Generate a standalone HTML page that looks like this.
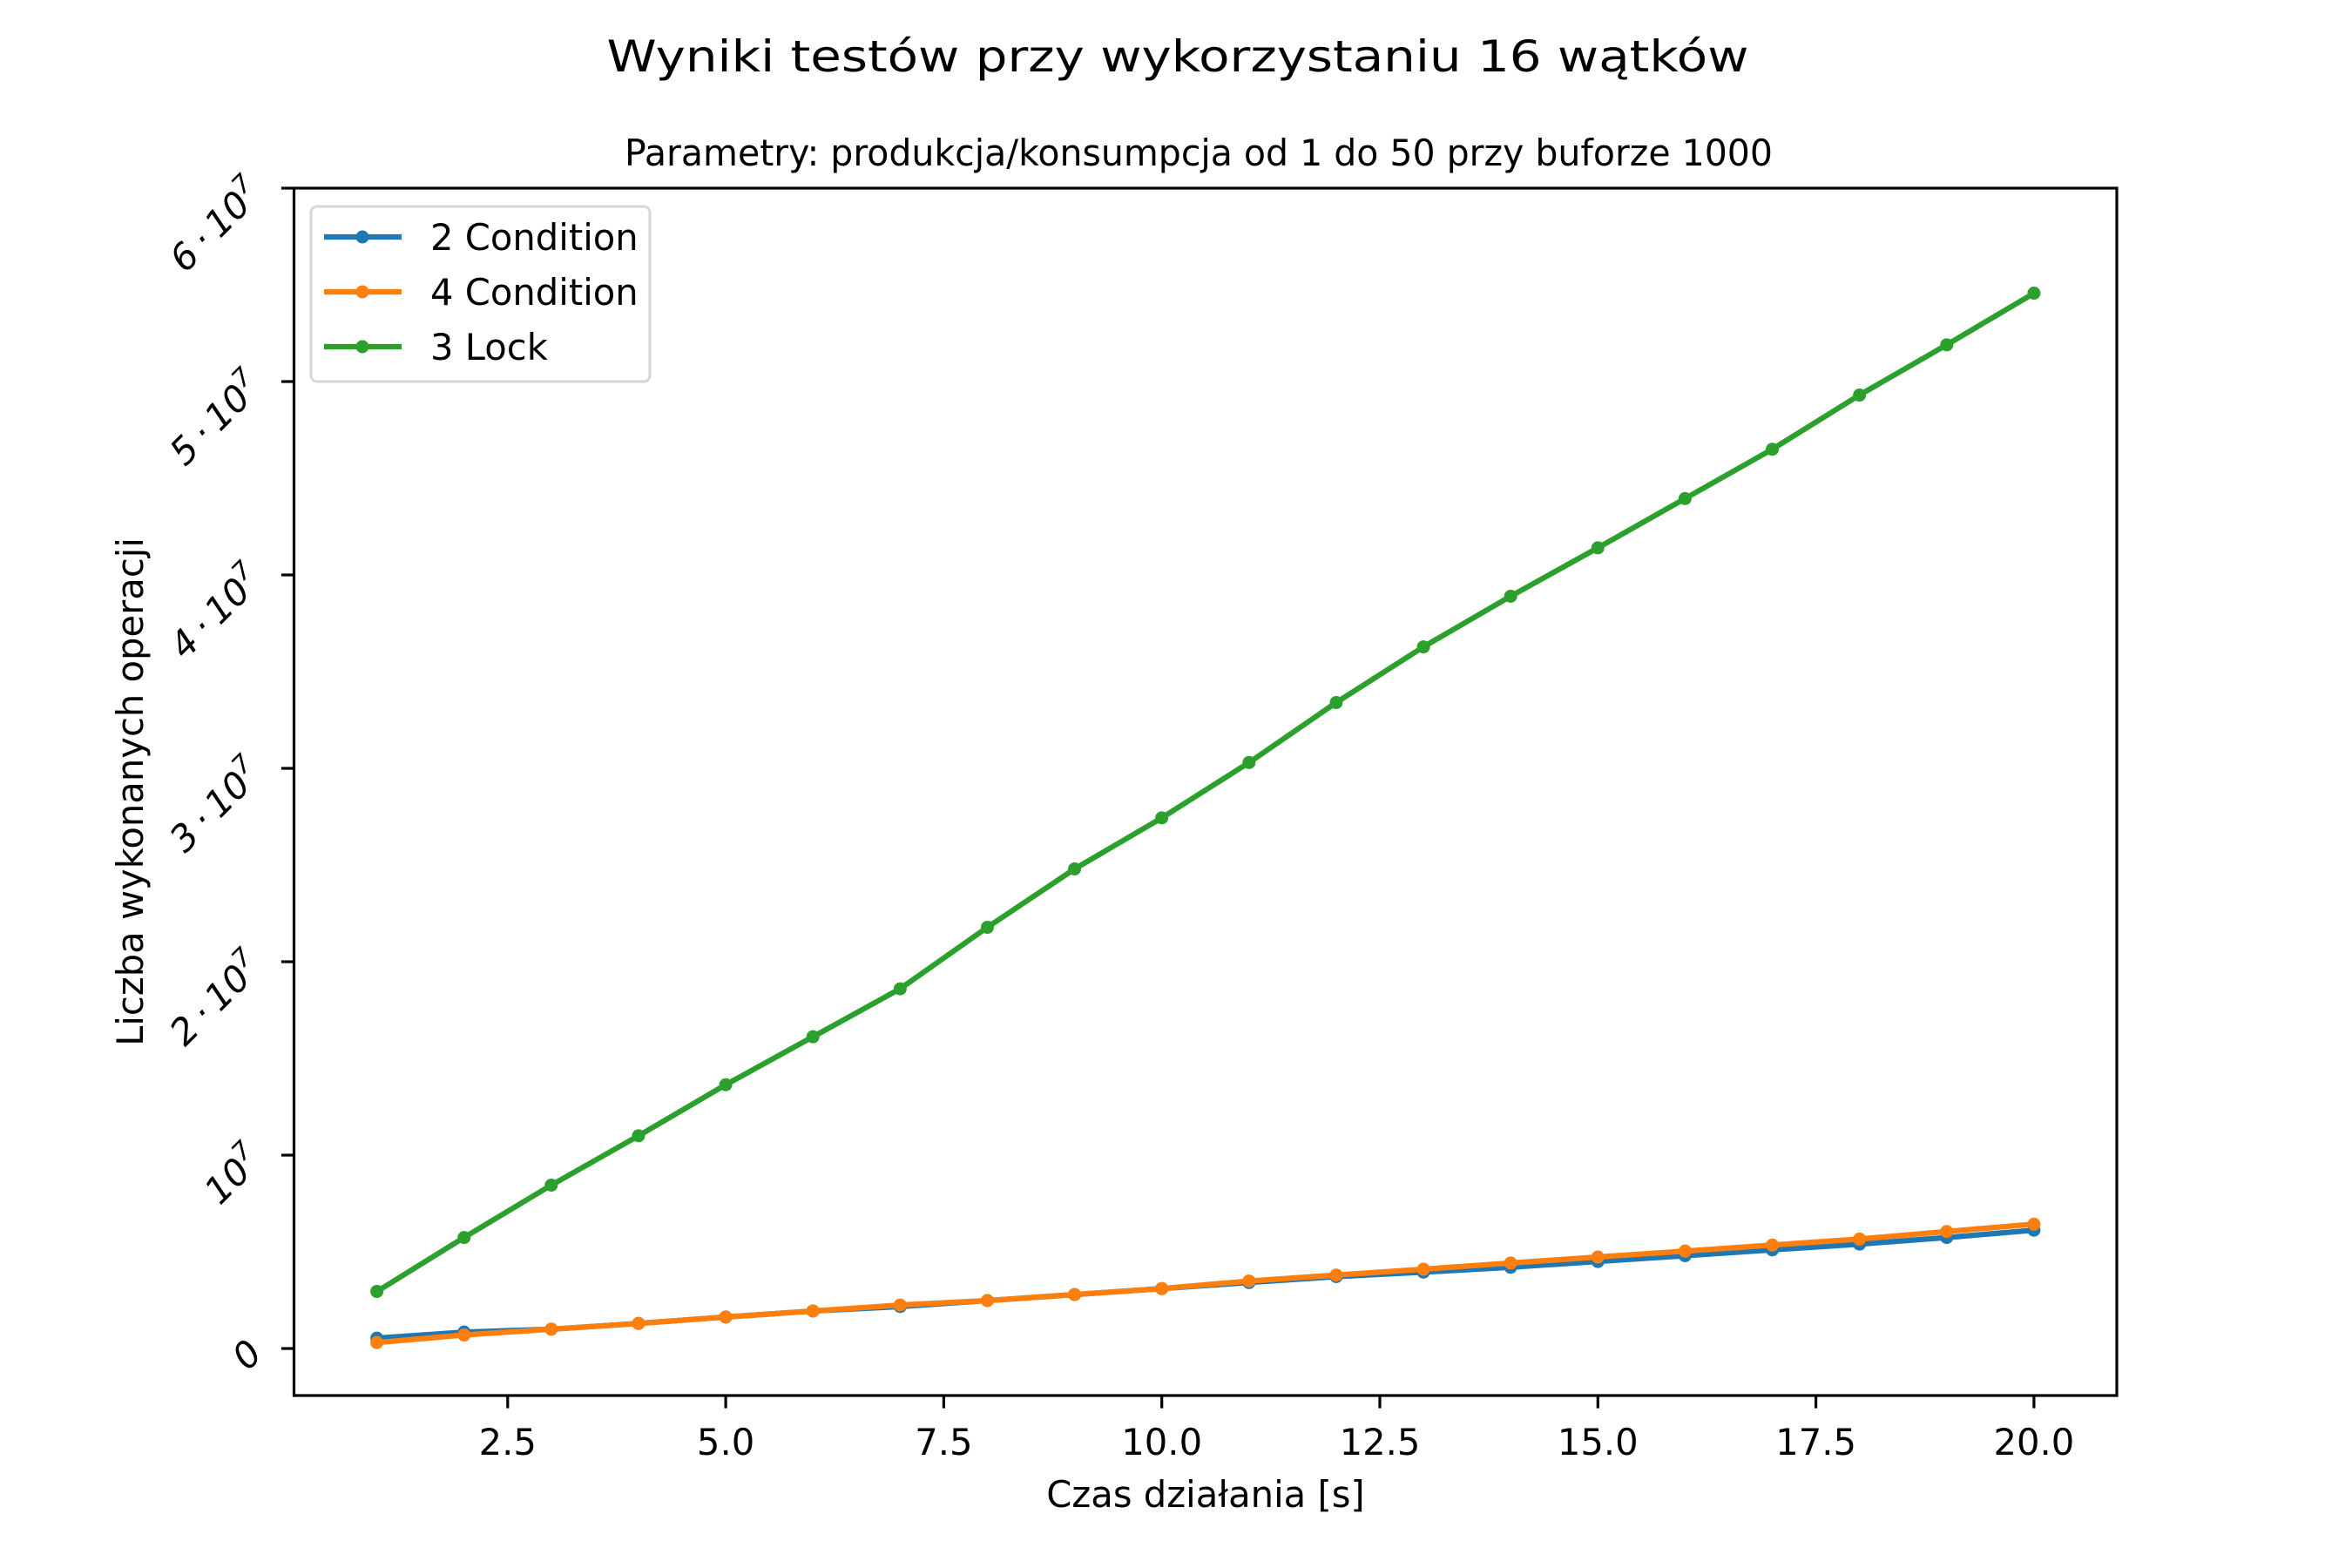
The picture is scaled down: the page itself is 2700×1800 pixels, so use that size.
<!DOCTYPE html>
<html><head><meta charset="utf-8"><style>
html,body{margin:0;padding:0;background:#fff;}
svg{display:block;font-family:"DejaVu Sans","Liberation Sans",sans-serif;}
</style></head><body>
<svg id="chart" width="2700" height="1800" viewBox="0 0 2700 1800" xmlns="http://www.w3.org/2000/svg">
<rect width="2700" height="1800" fill="#fff"/>
<text x="1352" y="82" font-size="50" text-anchor="middle" textLength="1311" lengthAdjust="spacingAndGlyphs">Wyniki testów przy wykorzystaniu 16 wątków</text>
<text x="1376" y="190" font-size="41.7" text-anchor="middle" textLength="1318" lengthAdjust="spacingAndGlyphs">Parametry: produkcja/konsumpcja od 1 do 50 przy buforze 1000</text>
<g id="plot"></g>
<text x="1384" y="1730" font-size="41.7" text-anchor="middle">Czas działania [s]</text>
<text transform="translate(164,909) rotate(-90)" font-size="41.7" text-anchor="middle">Liczba wykonanych operacji</text>
</svg>
<script>
const xValues = [1,2,3,4,5,6,7,8,9,10,11,12,13,14,15,16,17,18,19,20];
const cond2 = [0.054,0.085,0.10,0.13,0.163,0.194,0.217,0.248,0.279,0.31,0.341,0.372,0.395,0.42,0.45,0.48,0.51,0.54,0.574,0.612];
const cond4 = [0.031,0.07,0.10,0.13,0.163,0.194,0.225,0.248,0.279,0.31,0.349,0.38,0.41,0.442,0.473,0.504,0.535,0.566,0.605,0.643];
const lock3 = [0.295,0.574,0.845,1.10,1.364,1.612,1.86,2.178,2.48,2.744,3.03,3.34,3.628,3.89,4.14,4.395,4.65,4.93,5.19,5.457];
const seriesNames = ["2 Condition","4 Condition","3 Lock"];
const xTicks = [2.5,5.0,7.5,10.0,12.5,15.0,17.5,20.0];
const xTickLabels = ["2.5","5.0","7.5","10.0","12.5","15.0","17.5","20.0"];
const yTicks = [0,1,2,3,4,5,6];
const yTickPrefix = ["0","","2","3","4","5","6"];

const NS="http://www.w3.org/2000/svg";
const L=337.5,R=2430,T=216,B=1602;
const xmin=0.05,xmax=20.95,ymin=-0.243,ymax=6;
const sx=v=>L+(v-xmin)/(xmax-xmin)*(R-L);
const sy=v=>B-(v-ymin)/(ymax-ymin)*(B-T);
const g=document.getElementById('plot');
function mk(tag,attrs,parent){const e=document.createElementNS(NS,tag);for(const k in attrs)e.setAttribute(k,attrs[k]);(parent||g).appendChild(e);return e;}

const colors=["#1f77b4","#ff7f0e","#2ca02c"];
const data=[cond2,cond4,lock3];
const keys=["2-condition","4-condition","3-lock"];
data.forEach((s,i)=>{
  const pts=xValues.map((x,j)=>sx(x).toFixed(1)+","+sy(s[j]).toFixed(1)).join(" ");
  const pl=mk('polyline',{points:pts,fill:"none",stroke:colors[i],"stroke-width":6.25,"stroke-linejoin":"round","stroke-linecap":"square"});
  
  
  xValues.forEach((x,j)=>{
    const c=mk('circle',{cx:sx(x),cy:sy(s[j]),r:7.5,fill:colors[i]});
    
    
  });
});

const frame=mk('rect',{x:L,y:T,width:R-L,height:B-T,fill:"none",stroke:"#000","stroke-width":3.2});



xTicks.forEach((v,i)=>{
  const x=sx(v);
  const t=mk('line',{x1:x,y1:B,x2:x,y2:B+14.6,stroke:"#000","stroke-width":3.2});
  
  
  const lb=mk('text',{x:x,y:B+68,"font-size":41.7,"text-anchor":"middle"});
  lb.textContent=xTickLabels[i];
  
  
});
yTicks.forEach((v,i)=>{
  const y=sy(v);
  const t=mk('line',{x1:L-14.6,y1:y,x2:L,y2:y,stroke:"#000","stroke-width":3.2});
  
  
  const lb=mk('text',{x:303,y:y+8,"font-size":41.7,"text-anchor":"end","font-style":"italic",transform:`rotate(-45 303 ${y+8})`});
  
  
  if(v===0){lb.textContent="0";}
  else{
    const a=document.createElementNS(NS,'tspan');
    a.textContent=(yTickPrefix[i]?yTickPrefix[i]+"\u2009·\u2009":"")+"10";
    lb.appendChild(a);
    const b=document.createElementNS(NS,'tspan');b.textContent=String(7);b.setAttribute('font-size','29');b.setAttribute('dy','-17');lb.appendChild(b);
  }
});

// legend
const lg=mk('g',{});


mk('rect',{x:357,y:237,width:389,height:201,rx:7,fill:"#fff","fill-opacity":0.8,stroke:"#d6d6d6","stroke-width":3},lg);
seriesNames.forEach((n,i)=>{
  const y=272+i*63;
  const ent=mk('g',{},lg);
  
  
  mk('line',{x1:372,y1:y,x2:461,y2:y,stroke:colors[i],"stroke-width":6.25},ent);
  mk('circle',{cx:416,cy:y,r:7.5,fill:colors[i]},ent);
  const tx=mk('text',{x:494,y:y+15,"font-size":41.7},ent);
  tx.textContent=n;
});
</script>
</body></html>
